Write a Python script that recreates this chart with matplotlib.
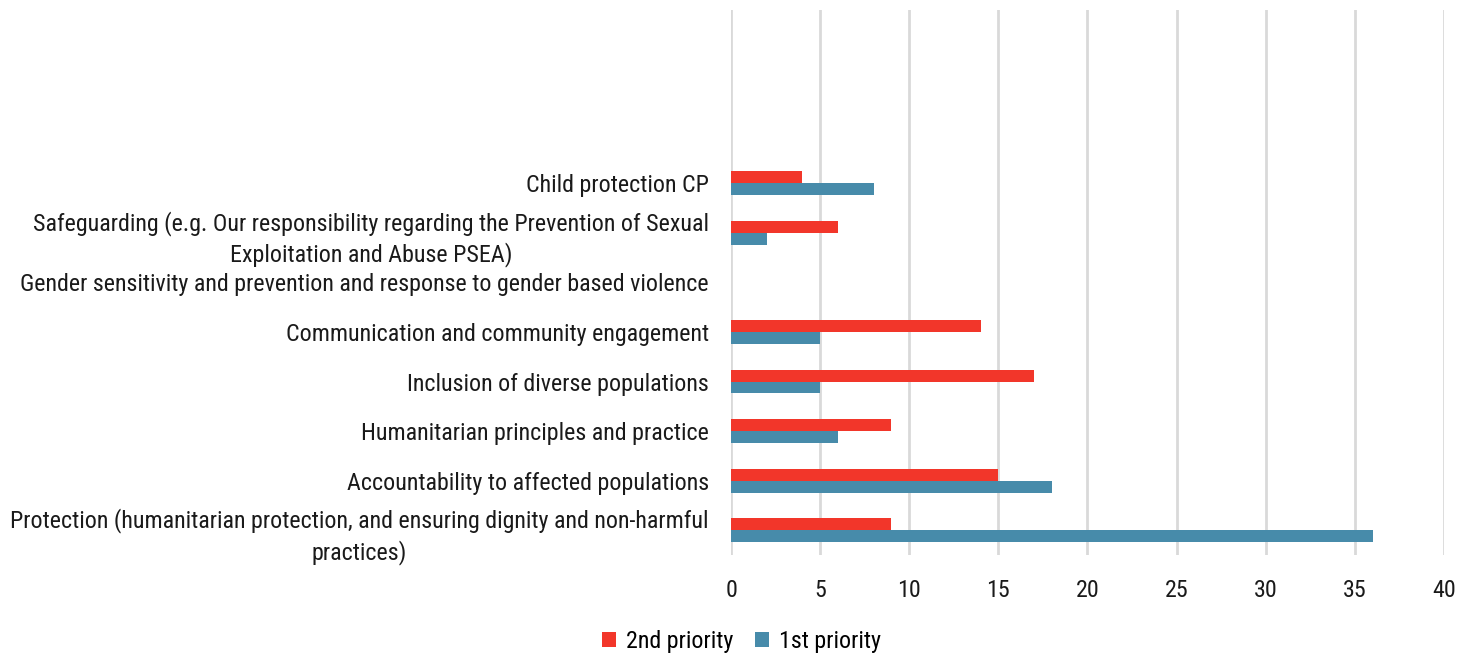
import matplotlib
matplotlib.use("Agg")
import matplotlib.pyplot as plt
import numpy as np

# categories from bottom to top (top three slots are empty in the original)
categories = [
    "Protection (humanitarian protection, and ensuring dignity and non-harmful\npractices)",
    "Accountability to affected populations",
    "Humanitarian principles and practice",
    "Inclusion of diverse populations",
    "Communication and community engagement",
    "Gender sensitivity and prevention and response to gender based violence",
    "Safeguarding (e.g. Our responsibility regarding the Prevention of Sexual\nExploitation and Abuse PSEA)",
    "Child protection CP",
    "", "", "",
]
second_priority = [9, 15, 9, 17, 14, 0, 6, 4, 0, 0, 0]
first_priority = [36, 18, 6, 5, 5, 0, 2, 8, 0, 0, 0]

red = "#F2362A"
blue = "#478BAA"

plt.rcParams['font.family'] = ['Roboto Condensed', 'Liberation Sans Narrow', 'Roboto', 'DejaVu Sans']

fig = plt.figure(figsize=(14.71, 6.56), dpi=100)
ax = fig.add_axes([0.497, 0.154, 0.4845, 0.831])

y = np.arange(len(categories))
h = 0.24
ax.barh(y + h / 2, second_priority, height=h, color=red, label="2nd priority", zorder=3)
ax.barh(y - h / 2, first_priority, height=h, color=blue, label="1st priority", zorder=3)

ax.set_xlim(0, 40)
ax.set_ylim(-0.5, len(categories) - 0.5)
ax.set_xticks(range(0, 41, 5))
ax.set_yticks(y)
ax.set_yticklabels(categories, fontsize=17.3, multialignment="center", color="#1a1a1a",
                   linespacing=1.35)
ax.tick_params(axis="x", labelsize=17.3, length=0, pad=17, labelcolor="#1a1a1a")
ax.tick_params(axis="y", length=0, pad=16)
ax.grid(axis="x", color="#d9d9d9", linewidth=2, zorder=0)
for s in ax.spines.values():
    s.set_visible(False)

fig.legend(loc="lower center", bbox_to_anchor=(0.504, -0.028), ncol=2, frameon=False,
           fontsize=17.3, handlelength=0.6, handleheight=0.6, handletextpad=0.4, columnspacing=0.9)

fig.savefig("out.png", dpi=100)
